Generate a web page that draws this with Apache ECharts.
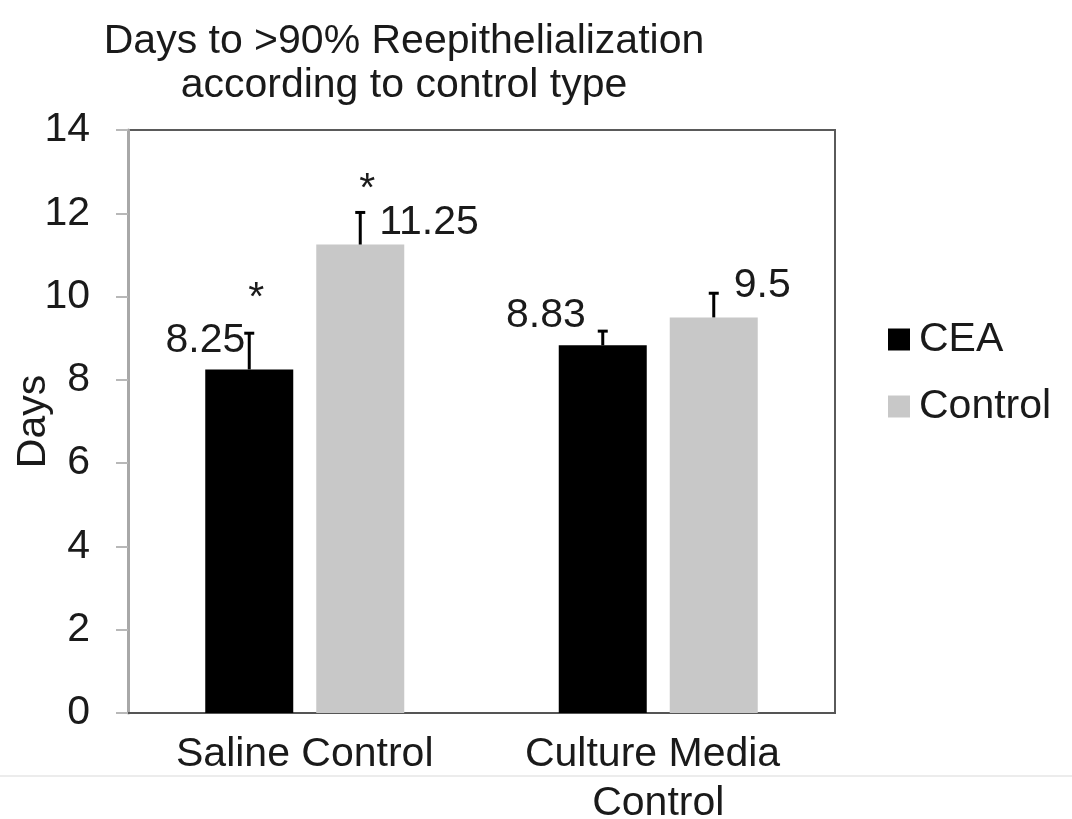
<!DOCTYPE html>
<html>
<head>
<meta charset="utf-8">
<script src="https://cdn.jsdelivr.net/npm/echarts@6/dist/echarts.min.js"></script>
<style>
html,body{margin:0;padding:0;background:#fff;}
#chart{width:1072px;height:819px;}
</style>
</head>
<body>
<div id="chart"></div>
<script>
// ---- data ----
const categories = ['Saline Control', 'Culture Media Control'];
const seriesNames = ['CEA', 'Control'];
const ceaMeans = [8.25, 8.83];
const controlMeans = [11.25, 9.5];
const ceaErrors = [0.87, 0.34];
const controlErrors = [0.77, 0.58];
const ceaMarks = ['*', ''];
const controlMarks = ['*', ''];
const yMin = 0, yMax = 14, yInterval = 2;
const titleText = 'Days to >90% Reepithelialization\naccording to control type';
const yName = 'Days';

// ---- styles / layout ----
const FONT = "'Liberation Sans', Arial, sans-serif";
const FS = 41;
const BAR_W = 88;
const BAR_GAP_PX = 23;
const colors = ['#000000', '#c8c8c8'];
const labelPlacement = [
  [{pos: [40, -29], align: 'right'}, {pos: [27, -30], align: 'right'}],
  [{pos: [63, -22], align: 'left'}, {pos: [64, -32], align: 'left'}]
];
const markPlacement = [
  [{dx: 7, dy: -35}, {dx: 7, dy: -35}],
  [{dx: 7, dy: -23}, {dx: 7, dy: -23}]
];

const means = [ceaMeans, controlMeans];
const errors = [ceaErrors, controlErrors];
const marks = [ceaMarks, controlMarks];
const offsets = [-(BAR_W + BAR_GAP_PX) / 2, (BAR_W + BAR_GAP_PX) / 2];

function barSeries(s) {
  return {
    name: seriesNames[s],
    type: 'bar',
    barWidth: BAR_W,
    barGap: (BAR_GAP_PX / BAR_W * 100) + '%',
    itemStyle: {color: colors[s]},
    data: means[s].map((v, i) => ({
      value: v,
      label: {
        show: true,
        position: labelPlacement[s][i].pos,
        align: labelPlacement[s][i].align,
        verticalAlign: 'middle',
        fontSize: FS,
        fontFamily: FONT,
        color: '#1a1a1a'
      }
    })),
    z: 2
  };
}

function errSeries(s) {
  return {
    name: seriesNames[s] + ' error',
    type: 'custom',
    z: 5,
    data: means[s].map((v, i) => [i, v, errors[s][i]]),
    renderItem: function (params, api) {
      const i = params.dataIndex;
      const cat = api.value(0), v = api.value(1), e = api.value(2);
      const p0 = api.coord([cat, v]);
      const p1 = api.coord([cat, v + e]);
      const x = p0[0] + offsets[s];
      const children = [
        {type: 'line', shape: {x1: x, y1: p0[1], x2: x, y2: p1[1]}, style: {stroke: '#000', lineWidth: 3}},
        {type: 'line', shape: {x1: x - 5, y1: p1[1], x2: x + 5, y2: p1[1]}, style: {stroke: '#000', lineWidth: 3}}
      ];
      if (marks[s][i]) {
        children.push({
          type: 'text',
          style: {
            text: marks[s][i],
            x: x + markPlacement[s][i].dx,
            y: p1[1] + markPlacement[s][i].dy,
            align: 'center',
            verticalAlign: 'middle',
            font: FS + 'px ' + FONT,
            fill: '#1a1a1a'
          }
        });
      }
      return {type: 'group', children: children};
    }
  };
}

const chart = echarts.init(document.getElementById('chart'), null, {renderer: 'canvas'});
chart.setOption({
  animation: false,
  backgroundColor: '#ffffff',
  title: {
    text: titleText,
    left: 399,
    textAlign: 'center',
    top: 15,
    textStyle: {fontSize: FS, fontWeight: 'normal', fontFamily: FONT, color: '#1a1a1a', lineHeight: 44}
  },
  legend: {
    data: seriesNames,
    orient: 'vertical',
    left: 883,
    top: 314,
    icon: 'rect',
    itemWidth: 22,
    itemHeight: 22,
    itemGap: 26,
    textStyle: {fontSize: FS, fontFamily: FONT, color: '#1a1a1a', padding: [0, 0, 0, 4]}
  },
  grid: {
    left: 128, right: 237, top: 130, bottom: 106,
    show: true, borderColor: '#5a5a5a', borderWidth: 2,
    containLabel: false, outerBoundsMode: 'none'
  },
  xAxis: {
    type: 'category',
    data: categories,
    axisLine: {show: true, lineStyle: {color: '#555', width: 2}},
    axisTick: {show: false},
    axisLabel: {
      fontSize: FS, fontFamily: FONT, color: '#1a1a1a', margin: 17,
      lineHeight: 49, width: 300, overflow: 'break', interval: 0
    }
  },
  yAxis: {
    type: 'value',
    min: yMin, max: yMax, interval: yInterval,
    name: yName,
    nameLocation: 'middle',
    nameRotate: 90,
    nameGap: 74,
    nameMoveOverlap: false,
    nameTextStyle: {fontSize: FS, fontFamily: FONT, color: '#1a1a1a'},
    axisLine: {show: true, lineStyle: {color: '#a8a8a8', width: 3}},
    axisTick: {show: true, inside: false, length: 12, lineStyle: {color: '#b8b8b8', width: 2}},
    axisLabel: {fontSize: FS, fontFamily: FONT, color: '#1a1a1a', margin: 38},
    splitLine: {show: false}
  },
  graphic: [{
    type: 'line', silent: true,
    shape: {x1: 0, y1: 776, x2: 1072, y2: 776},
    style: {stroke: '#ececec', lineWidth: 2}
  }],
  series: [barSeries(0), barSeries(1), errSeries(0), errSeries(1)]
});
</script>
</body>
</html>
